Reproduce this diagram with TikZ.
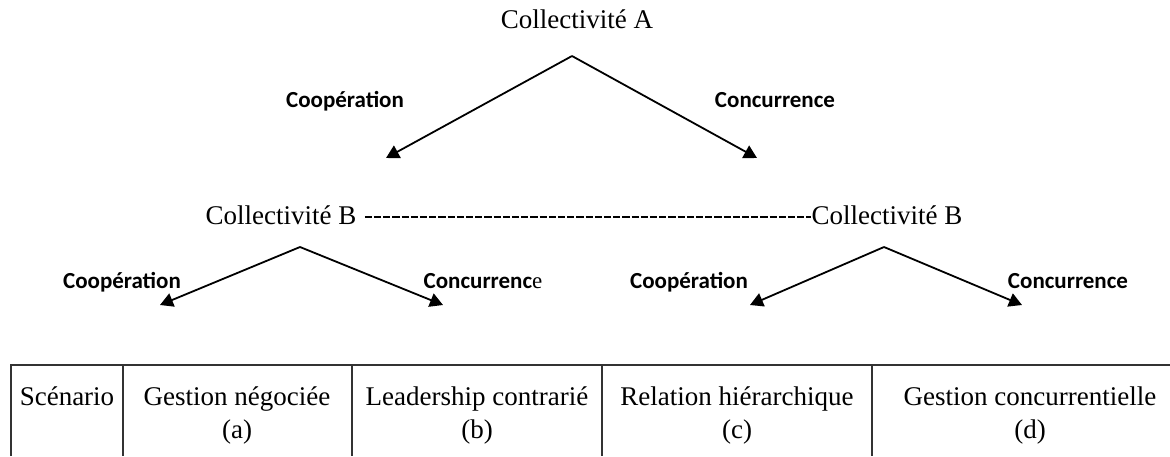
\documentclass[tikz,border=0pt]{standalone}
\usepackage{fontspec}
\setmainfont{Liberation Serif}
\newfontfamily\calibri{Carlito}
\usetikzlibrary{arrows.meta}

\begin{document}
\begin{tikzpicture}[x=0.5pt,y=-0.5pt]
  \tikzset{coll/.style = {font=\fontsize{13.5}{16}\selectfont,inner sep=0pt,anchor=base}}
  \tikzset{lbl/.style = {font=\calibri\bfseries\fontsize{11.5}{14}\selectfont,inner sep=0pt,anchor=base}}
  \tikzset{edge/.style = {-{Triangle[length=6.5pt,width=7pt]},line width=0.9pt}}
  \tikzset{cell/.style = {font=\fontsize{13.5}{16.5}\selectfont,align=center,inner sep=0pt,anchor=base}}
  \tikzset{grid/.style = {line width=0.7pt,black!80}}

  \useasboundingbox (0,0) rectangle (1170,456);

  % first choice
	\node[coll] (A) at (577,28) {Collectivité A};
	\coordinate (topA) at (572,56);
	\coordinate (tipA1) at (386,158);
	\coordinate (tipA2) at (757,158);
	\node[lbl] (coopA) at (345,107) {Coopération};
	\node[lbl] (concA) at (775,107) {Concurrence};

  % second choice
	\node[coll] (B1) at (281,224) {Collectivité B};
	\node[coll] (B2) at (887,224) {Collectivité B};
	\coordinate (topB1) at (300,247);
	\coordinate (topB2) at (884,247);
	\coordinate (tipB1) at (160,305);
	\coordinate (tipB2) at (443,305);
	\coordinate (tipB3) at (750,305);
	\coordinate (tipB4) at (1022,305);
	\node[lbl] (coopB1) at (122,288) {Coopération};
	\node[lbl] (concB1) at (483,288) {Concurrenc\normalfont e};
	\node[lbl] (coopB2) at (689,288) {Coopération};
	\node[lbl] (concB2) at (1068,288) {Concurrence};

	\draw[line width=0.8pt,dash pattern=on 3.6pt off 1pt]
	  ([xshift=4pt,yshift=3.4pt]B1.base east) -- ([yshift=3.4pt]B2.base west);

	\foreach \from/\to in {topA/tipA1, topA/tipA2, topB1/tipB1, topB1/tipB2, topB2/tipB3, topB2/tipB4}
	  \draw[edge] (\from) -- (\to);

  % scenarios
	\draw[grid] (11,456) -- (11,365) -- (1170,365);
	\foreach \x in {123,352,602,872}
	  \draw[grid] (\x,365) -- (\x,456);

	\node[cell] (sc) at (67,405) {Scénario};
	\node[cell] (sa) at (237,438) {Gestion négociée\\(a)};
	\node[cell] (sb) at (477,438) {Leadership contrarié\\(b)};
	\node[cell] (sd) at (737,438) {Relation hiérarchique\\(c)};
	\node[cell] (se) at (1030,438) {Gestion concurrentielle\\(d)};
\end{tikzpicture}
\end{document}
